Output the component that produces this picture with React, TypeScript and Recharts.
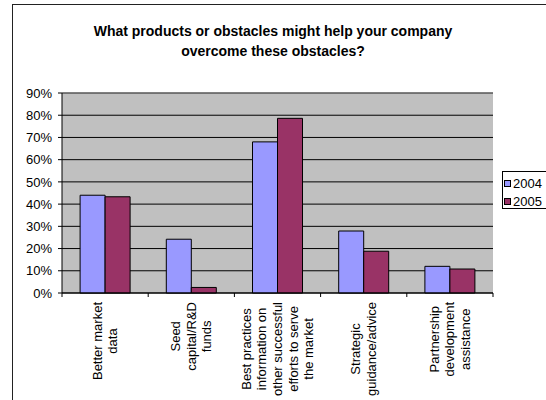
import React from "react";
import { BarChart, Bar, XAxis, YAxis, CartesianGrid, Legend, ReferenceLine } from "recharts";

const categories = [
  "Better market\ndata",
  "Seed\ncapital/R&D\nfunds",
  "Best practices\ninformation on\nother successful\nefforts to serve\nthe market",
  "Strategic\nguidance/advice",
  "Partnership\ndevelopment\nassistance",
];
const series2004 = [0.44, 0.242, 0.68, 0.279, 0.12];
const series2005 = [0.433, 0.025, 0.786, 0.188, 0.108];
const yTicks = [0, 0.1, 0.2, 0.3, 0.4, 0.5, 0.6, 0.7, 0.8, 0.9];
const seriesNames = ["2004", "2005"];
const seriesColors = ["#9999FF", "#993366"];

const FONT = "'Liberation Sans', Arial, sans-serif";
const W = 546;
const H = 400;
const MARGIN = { top: 93, right: 53, bottom: 0, left: 0 };
const Y_AXIS_W = 62;
const X_AXIS_H = 107;
const PLOT_W = W - MARGIN.left - MARGIN.right - Y_AXIS_W;
const BAND = PLOT_W / categories.length;
const LABEL_FS = 13;
const LINE_H = 15.6;

const data = categories.map((c, i) => ({
  name: c,
  y2004: series2004[i],
  y2005: series2005[i],
}));

let ctx: CanvasRenderingContext2D | null = null;
function measure(s: string): number {
  try {
    if (!ctx) {
      const c = document.createElement("canvas");
      ctx = c.getContext("2d");
    }
    if (ctx) {
      ctx.font = `${LABEL_FS}px 'Liberation Sans'`;
      return ctx.measureText(s).width;
    }
  } catch (e) {}
  return s.length * LABEL_FS * 0.55;
}

function CategoryTick(props: any) {
  const { x, y, payload, index } = props;
  const lines = String(payload.value).split("\n");
  const maxW = Math.max(...lines.map(measure));
  const n = lines.length;
  return (
    <g>
      <line x1={x - BAND / 2} y1={y} x2={x - BAND / 2} y2={y + 4} stroke="#000" />
      {index === categories.length - 1 && (
        <line x1={x + BAND / 2} y1={y} x2={x + BAND / 2} y2={y + 4} stroke="#000" />
      )}
      <g transform={`translate(${x},${y + 9 + maxW / 2}) rotate(-90)`}>
        {lines.map((l, i) => (
          <text
            key={i}
            x={0}
            y={(i - (n - 1) / 2) * LINE_H}
            textAnchor="middle"
            dominantBaseline="central"
            fontSize={LABEL_FS}
            fontFamily={FONT}
            fill="#000"
          >
            {l}
          </text>
        ))}
      </g>
    </g>
  );
}

function LegendBox() {
  return (
    <div
      style={{
        position: "relative",
        width: 60,
        height: 36,
        border: "1px solid #000",
        background: "#fff",
        fontFamily: FONT,
        fontSize: 13,
      }}
    >
      {seriesNames.map((s, i) => (
        <div
          key={s}
          style={{
            position: "absolute",
            left: 1,
            top: 2 + i * 18,
            height: 18,
            display: "flex",
            alignItems: "center",
            whiteSpace: "nowrap",
          }}
        >
          <span
            style={{
              display: "inline-block",
              width: 5,
              height: 5,
              border: "1px solid #000",
              background: seriesColors[i],
              marginRight: 2,
            }}
          />
          <span style={{ color: "#000" }}>{s}</span>
        </div>
      ))}
    </div>
  );
}

export default function App() {
  return (
    <div
      style={{
        position: "absolute",
        left: 0,
        top: 0,
        width: W,
        height: H,
        background: "#fff",
        overflow: "hidden",
      }}
    >
      <div
        style={{
          position: "absolute",
          left: 12,
          top: 4,
          width: 600,
          height: 500,
          border: "1px solid #222",
        }}
      />
      <div
        style={{
          position: "absolute",
          left: 0,
          top: 21,
          width: W,
          textAlign: "center",
          fontFamily: FONT,
          fontWeight: "bold",
          fontSize: 14,
          lineHeight: "20px",
          color: "#000",
        }}
      >
        What products or obstacles might help your company
        <br />
        overcome these obstacles?
      </div>
      <div style={{ position: "absolute", left: 0, top: 0 }}>
        <BarChart
          width={W}
          height={H}
          data={data}
          margin={MARGIN}
          barCategoryGap="21%"
          barGap={0}
        >
          <CartesianGrid
            vertical={false}
            stroke="#000"
            fill="#C0C0C0"
            fillOpacity={1}
          />
          <XAxis
            dataKey="name"
            height={X_AXIS_H}
            interval={0}
            tickLine={false}
            tickSize={0}
            tickMargin={0}
            axisLine={{ stroke: "#000" }}
            tick={<CategoryTick />}
          />
          <YAxis
            width={Y_AXIS_W}
            domain={[0, 0.9]}
            ticks={yTicks}
            interval={0}
            tickFormatter={(v: number) => `${Math.round(v * 100)}%`}
            tick={{ fontSize: 13, fill: "#000", fontFamily: FONT }}
            tickSize={4}
            tickMargin={6}
            tickLine={{ stroke: "#000" }}
            axisLine={{ stroke: "#000" }}
          />
          <YAxis
            yAxisId="right"
            orientation="right"
            width={0}
            domain={[0, 0.9]}
            tick={false}
            tickLine={false}
            axisLine={{ stroke: "#808080" }}
          />
          <ReferenceLine y={0.9} stroke="#808080" />
          <Bar
            dataKey="y2004"
            name={seriesNames[0]}
            fill={seriesColors[0]}
            stroke="#000"
            strokeWidth={1}
            isAnimationActive={false}
          />
          <Bar
            dataKey="y2005"
            name={seriesNames[1]}
            fill={seriesColors[1]}
            stroke="#000"
            strokeWidth={1}
            isAnimationActive={false}
          />
          <Legend
            layout="horizontal"
            verticalAlign="middle"
            align="center"
            wrapperStyle={{ left: 502, top: 171, width: 62, height: 38 }}
            content={<LegendBox />}
          />
        </BarChart>
      </div>
    </div>
  );
}
